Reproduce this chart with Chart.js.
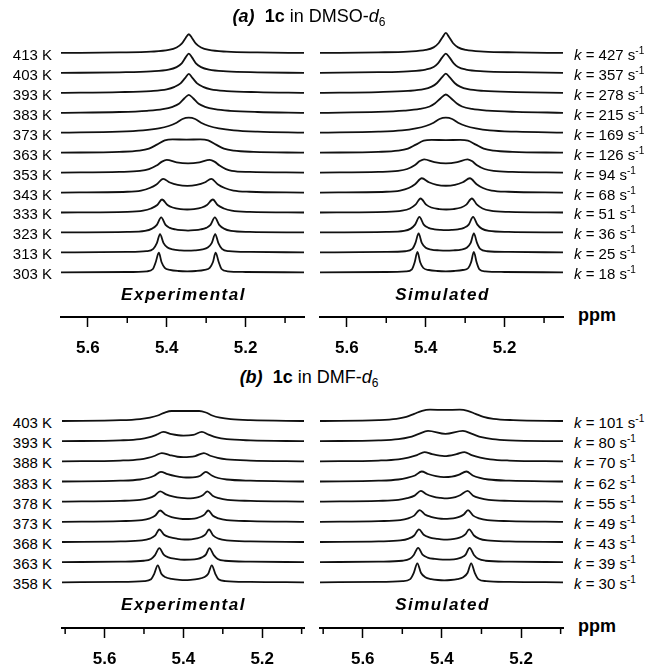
<!DOCTYPE html>
<html>
<head>
<meta charset="utf-8">
<script src="https://cdn.jsdelivr.net/npm/chart.js@4.4.1/dist/chart.umd.min.js"></script>
<style>
html, body { margin: 0; padding: 0; background: #fff; overflow: hidden; }
body { width: 647px; height: 667px; position: relative; font-family: Arial, "Liberation Sans", sans-serif; color: #000; }
canvas { position: absolute; }
.lbl { position: absolute; font-size: 15px; line-height: 16px; white-space: nowrap; }
.ttl { position: absolute; left: 0; width: 618px; text-align: center; font-size: 18px; line-height: 20px; white-space: nowrap; }
.cap { position: absolute; width: 243px; text-align: center; font-size: 17px; line-height: 18px; font-weight: bold; font-style: italic; letter-spacing: 1.5px; }
.ppm { position: absolute; left: 578px; font-size: 18px; line-height: 20px; font-weight: bold; }
.lbl sup { font-size: 10px; vertical-align: 6px; line-height: 0; }
.ttl sub { font-size: 12px; vertical-align: -4px; line-height: 0; }
</style>
</head>
<body>
<canvas id="expA" width="263" height="332" style="left:51px;top:25px"></canvas>
<canvas id="simA" width="263" height="332" style="left:310px;top:25px"></canvas>
<canvas id="expB" width="262" height="275" style="left:52px;top:393px"></canvas>
<canvas id="simB" width="263" height="275" style="left:310px;top:393px"></canvas>
<script>
// (a) 1c in DMSO-d6, lowest temperature first
const tempsA = [303, 313, 323, 333, 343, 353, 363, 373, 383, 393, 403, 413];
const kA = [18, 25, 36, 51, 68, 94, 126, 169, 215, 278, 357, 427];
// each trace: [ppm, intensity]
const expA = [
  [[5.668,0],[5.50,0.3],[5.45,1],[5.435,3.3],[5.428,10],[5.42,19.7],[5.413,10],[5.405,4.5],[5.392,2.5],[5.37,1.3],[5.348,1],[5.326,1.3],[5.304,2.5],[5.291,4.5],[5.283,10],[5.276,19.7],[5.268,10],[5.261,3.3],[5.246,1],[5.20,0.3],[5.052,0]],
  [[5.668,0],[5.50,0.4],[5.452,1.2],[5.434,3.5],[5.425,9.2],[5.417,18.3],[5.408,9.2],[5.398,4.8],[5.385,3],[5.365,2],[5.347,1.7],[5.329,2],[5.309,3],[5.296,4.8],[5.286,9.2],[5.277,18.3],[5.269,9.2],[5.26,3.5],[5.242,1.2],[5.19,0.4],[5.052,0]],
  [[5.668,0],[5.50,0.5],[5.455,1.5],[5.437,3.8],[5.425,7.5],[5.414,15],[5.403,7.5],[5.392,4.5],[5.378,3],[5.362,2.2],[5.346,1.8],[5.33,2.2],[5.314,3],[5.30,4.5],[5.289,7.5],[5.278,15],[5.267,7.5],[5.255,3.8],[5.237,1.5],[5.19,0.5],[5.052,0]],
  [[5.668,0],[5.50,0.6],[5.46,1.8],[5.44,4],[5.424,7.5],[5.412,13],[5.398,7.5],[5.385,5],[5.365,3.4],[5.348,3],[5.331,3.4],[5.311,5],[5.298,7.5],[5.283,13],[5.271,7.5],[5.255,4],[5.235,1.8],[5.19,0.6],[5.052,0]],
  [[5.668,0],[5.50,0.8],[5.465,2],[5.443,4.5],[5.426,8],[5.409,13.7],[5.392,10],[5.372,7.6],[5.348,6.7],[5.324,7.6],[5.304,10],[5.287,13.7],[5.27,8],[5.253,4.5],[5.231,2],[5.19,0.8],[5.052,0]],
  [[5.668,0],[5.52,0.7],[5.468,1.7],[5.445,3.5],[5.426,7],[5.412,11],[5.40,12.7],[5.375,10.3],[5.346,9.3],[5.317,10.3],[5.291,12.7],[5.279,11],[5.266,7],[5.25,3.5],[5.235,1.8],[5.19,0.7],[5.052,0]],
  [[5.668,0],[5.52,0.8],[5.47,2],[5.445,4],[5.425,8],[5.405,12.3],[5.385,13.3],[5.35,13],[5.315,13.3],[5.295,12.3],[5.275,8],[5.255,4],[5.23,2],[5.18,0.8],[5.052,0]],
  [[5.668,0],[5.52,1],[5.46,2.3],[5.42,4.3],[5.395,6.7],[5.375,10],[5.36,13.7],[5.344,15],[5.328,13.7],[5.313,10],[5.293,6.7],[5.268,4.3],[5.23,2.3],[5.17,1],[5.052,0]],
  [[5.668,0],[5.52,0.8],[5.45,2],[5.41,3.6],[5.385,6],[5.369,9],[5.355,14.5],[5.344,18],[5.333,14.5],[5.319,9],[5.303,6],[5.278,3.6],[5.24,2],[5.17,0.8],[5.052,0]],
  [[5.668,0],[5.52,0.7],[5.44,1.8],[5.40,3.5],[5.38,6],[5.365,9.5],[5.353,15],[5.344,19],[5.335,15],[5.323,9.5],[5.308,6],[5.288,3.5],[5.248,1.8],[5.17,0.7],[5.052,0]],
  [[5.668,0],[5.52,0.6],[5.44,1.5],[5.395,3.2],[5.375,5.8],[5.362,9.6],[5.352,15.5],[5.344,19.3],[5.336,15.5],[5.326,9.6],[5.313,5.8],[5.293,3.2],[5.248,1.5],[5.17,0.6],[5.052,0]],
  [[5.668,0],[5.52,0.5],[5.44,1.3],[5.395,3],[5.375,5.5],[5.362,9.3],[5.352,15],[5.344,18.7],[5.336,15],[5.326,9.3],[5.313,5.5],[5.293,3],[5.248,1.3],[5.17,0.5],[5.052,0]]
];
const simA = [
  [[5.668,0],[5.50,0.3],[5.45,0.9],[5.435,3],[5.428,10],[5.421,20.5],[5.414,10],[5.406,4.3],[5.392,2.3],[5.37,1.3],[5.349,1],[5.328,1.3],[5.306,2.3],[5.292,4.3],[5.285,10],[5.278,20.5],[5.271,10],[5.264,3],[5.249,0.9],[5.20,0.3],[5.052,0]],
  [[5.668,0],[5.50,0.4],[5.452,1.1],[5.434,3.4],[5.426,9.5],[5.418,19],[5.41,9.5],[5.40,4.6],[5.386,2.8],[5.366,2],[5.348,1.7],[5.33,2],[5.31,2.8],[5.296,4.6],[5.286,9.5],[5.278,19],[5.27,9.5],[5.262,3.4],[5.244,1.1],[5.19,0.4],[5.052,0]],
  [[5.668,0],[5.50,0.5],[5.455,1.5],[5.438,3.8],[5.427,7.8],[5.416,15.5],[5.405,7.8],[5.393,4.6],[5.378,3.1],[5.362,2.5],[5.348,2.3],[5.334,2.5],[5.318,3.1],[5.303,4.6],[5.291,7.8],[5.28,15.5],[5.269,7.8],[5.258,3.8],[5.24,1.5],[5.19,0.5],[5.052,0]],
  [[5.668,0],[5.50,0.6],[5.46,1.8],[5.44,4],[5.426,7.8],[5.413,14],[5.399,7.8],[5.386,5],[5.366,3.4],[5.348,3],[5.33,3.4],[5.31,5],[5.297,7.8],[5.283,14],[5.27,7.8],[5.256,4],[5.236,1.8],[5.19,0.6],[5.052,0]],
  [[5.668,0],[5.50,0.8],[5.465,2],[5.443,4.5],[5.427,8.3],[5.41,14.3],[5.392,10.3],[5.372,7.7],[5.349,6.8],[5.326,7.7],[5.306,10.3],[5.288,14.3],[5.271,8.3],[5.255,4.5],[5.233,2],[5.19,0.8],[5.052,0]],
  [[5.668,0],[5.52,0.7],[5.47,1.7],[5.447,3.6],[5.428,7.3],[5.415,11.5],[5.404,13.3],[5.378,10.5],[5.349,9.3],[5.32,10.5],[5.294,13.3],[5.283,11.5],[5.27,7.3],[5.251,3.6],[5.228,1.7],[5.18,0.7],[5.052,0]],
  [[5.668,0],[5.52,0.8],[5.47,2],[5.445,4],[5.425,8],[5.405,12],[5.385,12.7],[5.349,12.6],[5.313,12.7],[5.293,12],[5.273,8],[5.253,4],[5.228,2],[5.18,0.8],[5.052,0]],
  [[5.668,0],[5.52,1],[5.46,2.3],[5.425,4.3],[5.40,6.7],[5.38,10],[5.365,13.7],[5.349,15],[5.333,13.7],[5.318,10],[5.298,6.7],[5.273,4.3],[5.238,2.3],[5.17,1],[5.052,0]],
  [[5.668,0],[5.52,0.9],[5.455,2.1],[5.415,3.8],[5.39,6.3],[5.377,9.2],[5.362,14.6],[5.349,18.3],[5.336,14.6],[5.321,9.2],[5.308,6.3],[5.283,3.8],[5.243,2.1],[5.17,0.9],[5.052,0]],
  [[5.668,0],[5.52,0.8],[5.445,1.9],[5.405,3.6],[5.385,6.2],[5.372,9.6],[5.359,15.4],[5.349,19.3],[5.339,15.4],[5.326,9.6],[5.313,6.2],[5.293,3.6],[5.253,1.9],[5.17,0.8],[5.052,0]],
  [[5.668,0],[5.52,0.7],[5.445,1.6],[5.40,3.3],[5.38,5.9],[5.369,9.6],[5.358,15.5],[5.349,19.3],[5.34,15.5],[5.329,9.6],[5.318,5.9],[5.298,3.3],[5.253,1.6],[5.17,0.7],[5.052,0]],
  [[5.668,0],[5.52,0.6],[5.445,1.4],[5.40,3],[5.38,5.6],[5.367,10],[5.357,16],[5.349,20],[5.341,16],[5.331,10],[5.318,5.6],[5.298,3],[5.253,1.4],[5.17,0.6],[5.052,0]]
];

// (b) 1c in DMF-d6, lowest temperature first
const tempsB = [358, 363, 368, 373, 378, 383, 388, 393, 403];
const kB = [30, 39, 43, 49, 55, 62, 70, 80, 101];
const expB = [
  [[5.708,0],[5.56,0.4],[5.50,1.2],[5.482,3],[5.474,8.5],[5.465,17],[5.456,8.5],[5.445,5],[5.43,3.5],[5.41,2.5],[5.396,2.2],[5.382,2.5],[5.362,3.5],[5.348,5],[5.337,8.5],[5.328,17],[5.319,8.5],[5.311,3],[5.293,1.2],[5.23,0.4],[5.094,0]],
  [[5.708,0],[5.56,0.5],[5.50,1.4],[5.482,3.2],[5.472,7],[5.461,14],[5.45,7.5],[5.438,4.8],[5.42,3.3],[5.398,2.4],[5.382,2.5],[5.364,3.3],[5.353,4.8],[5.343,7.5],[5.334,14],[5.323,7],[5.313,3.2],[5.295,1.4],[5.23,0.5],[5.094,0]],
  [[5.708,0],[5.56,0.6],[5.505,1.5],[5.485,3.3],[5.472,6.3],[5.461,12.5],[5.449,7.2],[5.435,4.8],[5.415,3.2],[5.397,2.5],[5.38,2.7],[5.366,3.6],[5.353,5.2],[5.344,7.5],[5.335,12.5],[5.324,6.3],[5.311,3.3],[5.29,1.5],[5.23,0.6],[5.094,0]],
  [[5.708,0],[5.56,0.7],[5.505,1.7],[5.485,3.5],[5.472,6],[5.459,11.3],[5.446,7.3],[5.43,4.8],[5.41,3.3],[5.395,2.8],[5.38,3],[5.366,3.8],[5.355,5.3],[5.346,7.5],[5.337,11.3],[5.325,6],[5.311,3.5],[5.29,1.7],[5.23,0.7],[5.094,0]],
  [[5.708,0],[5.56,0.8],[5.51,1.8],[5.488,3.5],[5.474,5.8],[5.459,10.3],[5.444,7.3],[5.425,5],[5.405,3.7],[5.39,3.3],[5.375,3.6],[5.362,4.5],[5.351,6.3],[5.339,10.3],[5.326,6],[5.31,3.5],[5.288,1.8],[5.23,0.8],[5.094,0]],
  [[5.708,0],[5.56,0.8],[5.51,2],[5.49,3.5],[5.474,5.8],[5.457,9.7],[5.44,7.3],[5.42,5.3],[5.40,4.2],[5.385,4],[5.37,4.3],[5.357,5.8],[5.343,9.7],[5.328,6],[5.312,3.5],[5.29,2],[5.23,0.8],[5.094,0]],
  [[5.708,0],[5.56,0.8],[5.51,2],[5.49,3.5],[5.472,5.6],[5.455,8.3],[5.435,6.3],[5.415,4.6],[5.40,4.2],[5.385,4.4],[5.37,5.3],[5.348,8.3],[5.332,5.6],[5.313,3.5],[5.29,2],[5.23,0.8],[5.094,0]],
  [[5.708,0],[5.56,0.8],[5.51,2],[5.488,3.7],[5.468,6.5],[5.451,9.3],[5.43,7],[5.40,5.5],[5.375,6.3],[5.353,9.3],[5.336,6.5],[5.316,3.7],[5.29,2],[5.23,0.8],[5.094,0]],
  [[5.708,0],[5.56,0.8],[5.51,2],[5.485,3.5],[5.465,5.5],[5.447,8.5],[5.43,10],[5.395,10],[5.36,10],[5.343,8.5],[5.327,5.5],[5.307,3.3],[5.28,1.8],[5.23,0.8],[5.094,0]]
];
const simB = [
  [[5.708,0],[5.56,0.4],[5.50,1.2],[5.48,3.2],[5.471,9.5],[5.462,19],[5.453,9.5],[5.442,5],[5.427,3.2],[5.41,2.3],[5.394,2],[5.378,2.3],[5.361,3.2],[5.346,5],[5.335,9.5],[5.326,19],[5.317,9.5],[5.308,3.2],[5.288,1.2],[5.23,0.4],[5.094,0]],
  [[5.708,0],[5.56,0.5],[5.50,1.4],[5.481,3.3],[5.471,7.2],[5.46,14.3],[5.449,7.5],[5.436,4.6],[5.418,3.2],[5.398,2.5],[5.38,2.6],[5.362,3.3],[5.35,4.8],[5.34,7.5],[5.33,14.3],[5.319,7.2],[5.308,3.3],[5.29,1.4],[5.23,0.5],[5.094,0]],
  [[5.708,0],[5.56,0.6],[5.505,1.5],[5.484,3.4],[5.47,6.5],[5.458,12.7],[5.446,7.3],[5.432,4.7],[5.413,3.2],[5.395,2.4],[5.378,2.7],[5.362,3.6],[5.35,5.2],[5.341,7.5],[5.331,12.7],[5.319,6.5],[5.306,3.4],[5.285,1.5],[5.23,0.6],[5.094,0]],
  [[5.708,0],[5.56,0.7],[5.505,1.7],[5.485,3.5],[5.47,6.2],[5.456,11.7],[5.443,7.4],[5.428,5],[5.41,3.5],[5.395,3],[5.38,3.2],[5.365,4],[5.353,5.5],[5.344,7.6],[5.334,11.7],[5.321,6.2],[5.306,3.5],[5.285,1.7],[5.23,0.7],[5.094,0]],
  [[5.708,0],[5.56,0.8],[5.51,1.8],[5.488,3.5],[5.469,6],[5.453,10.7],[5.439,7.4],[5.422,5.1],[5.405,3.8],[5.394,3.3],[5.38,3.6],[5.366,4.6],[5.354,6.4],[5.335,10.7],[5.321,6],[5.304,3.5],[5.282,1.8],[5.23,0.8],[5.094,0]],
  [[5.708,0],[5.56,0.8],[5.51,2],[5.488,3.6],[5.468,6],[5.451,10],[5.435,7.5],[5.415,5.3],[5.395,4.3],[5.375,4.8],[5.358,6.6],[5.338,10],[5.322,6],[5.304,3.6],[5.282,2],[5.23,0.8],[5.094,0]],
  [[5.708,0],[5.56,0.8],[5.51,2],[5.485,3.8],[5.463,6.3],[5.444,9.3],[5.425,7.2],[5.394,5.3],[5.363,7.2],[5.343,9.3],[5.325,6.3],[5.303,3.8],[5.278,2],[5.23,0.8],[5.094,0]],
  [[5.708,0],[5.56,0.8],[5.51,2],[5.482,4],[5.46,7],[5.435,10.3],[5.391,7.3],[5.347,10.3],[5.322,7],[5.30,4],[5.272,2],[5.23,0.8],[5.094,0]],
  [[5.708,0],[5.56,0.9],[5.515,2.2],[5.49,4.2],[5.47,7.2],[5.45,10.2],[5.43,11.3],[5.392,11.1],[5.355,11.3],[5.335,10.2],[5.315,7.2],[5.295,4.2],[5.27,2.2],[5.22,0.9],[5.094,0]]
];

const isMajor = v => Math.round(v * 10) % 2 === 0;

// short ticks between the labelled ones
const minorTicks = {
  id: 'minorTicks',
  afterDraw(chart) {
    const s = chart.scales.x, ctx = chart.ctx;
    ctx.save();
    ctx.strokeStyle = '#000';
    ctx.lineWidth = 1.5;
    s.ticks.forEach(t => {
      if (isMajor(t.value)) return;
      const px = s.getPixelForValue(t.value);
      ctx.beginPath();
      ctx.moveTo(px, s.top);
      ctx.lineTo(px, s.top + 6);
      ctx.stroke();
    });
    ctx.restore();
  }
};

function spectra(id, traces, xmin, xmax, ymax, base, step) {
  new Chart(document.getElementById(id), {
    type: 'line',
    data: {
      datasets: traces.map((pts, i) => ({
        data: pts.map(p => ({ x: p[0], y: base + i * step + p[1] })),
        borderColor: '#111',
        borderWidth: 1.8,
        pointRadius: 0,
        cubicInterpolationMode: 'monotone',
        fill: false
      }))
    },
    options: {
      responsive: false,
      animation: false,
      events: [],
      layout: { padding: { left: 10, right: 10, top: 0, bottom: 0 } },
      plugins: { legend: { display: false }, tooltip: { enabled: false } },
      scales: {
        x: {
          type: 'linear', reverse: true, min: xmin, max: xmax,
          afterFit: s => { s.height = 40; },
          border: { display: true, color: '#000', width: 2 },
          grid: {
            drawOnChartArea: false, tickLength: 10, tickWidth: 1.5,
            tickColor: c => (c.tick && isMajor(c.tick.value)) ? '#000' : 'rgba(0,0,0,0)'
          },
          ticks: {
            stepSize: 0.1, includeBounds: false, autoSkip: false, maxRotation: 0, padding: 11,
            color: '#000', font: { family: 'Arial', size: 17, weight: 'bold' },
            callback: v => isMajor(v) ? v.toFixed(1) : ''
          }
        },
        y: { display: false, min: 0, max: ymax }
      }
    },
    plugins: [minorTicks]
  });
}

function text(html, cls, css) {
  const d = document.createElement('div');
  d.className = cls;
  d.innerHTML = html;
  Object.assign(d.style, css);
  document.body.appendChild(d);
}

// panel (a): axis line at y=317, canvas top 25
spectra('expA', expA, 5.052, 5.668, 292, 44.7, 19.94);
spectra('simA', simA, 5.052, 5.668, 292, 44.7, 19.94);
// panel (b): axis line at y=628, canvas top 393
spectra('expB', expB, 5.094, 5.708, 235, 45.7, 20.16);
spectra('simB', simB, 5.094, 5.708, 235, 45.7, 20.16);

tempsA.forEach((t, i) => {
  const y = 317 - (44.7 + i * 19.94) + 2;
  text(t + ' K', 'lbl', { right: (647 - 52) + 'px', top: (y - 8) + 'px' });
  text('<i>k</i> = ' + kA[i] + ' s<sup>-1</sup>', 'lbl', { left: '574px', top: (y - 8) + 'px' });
});
tempsB.forEach((t, i) => {
  const y = 628 - (45.7 + i * 20.16) + 2;
  text(t + ' K', 'lbl', { right: (647 - 52) + 'px', top: (y - 8) + 'px' });
  text('<i>k</i> = ' + kB[i] + ' s<sup>-1</sup>', 'lbl', { left: '574px', top: (y - 8) + 'px' });
});

text('<b><i>(a)</i></b>&nbsp; <b>1c</b> in DMSO-<i>d</i><sub>6</sub>', 'ttl', { top: '6px' });
text('<b><i>(b)</i></b>&nbsp; <b>1c</b> in DMF-<i>d</i><sub>6</sub>', 'ttl', { top: '367px' });
text('Experimental', 'cap', { left: '62px', top: '286px' });
text('Simulated', 'cap', { left: '321px', top: '286px' });
text('Experimental', 'cap', { left: '62px', top: '596px' });
text('Simulated', 'cap', { left: '321px', top: '596px' });
text('ppm', 'ppm', { top: '305px' });
text('ppm', 'ppm', { top: '616px' });
</script>
</body>
</html>
